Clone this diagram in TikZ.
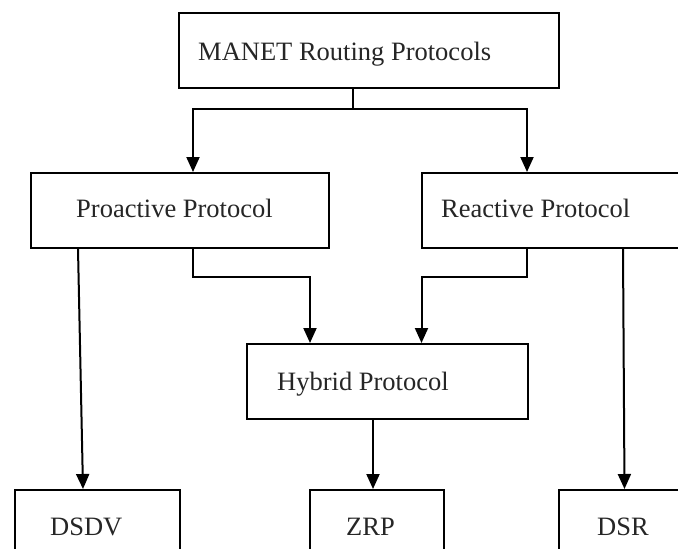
\documentclass[tikz,border=0pt]{standalone}
\usepackage{fontspec}
\setmainfont{Liberation Serif}
\usetikzlibrary{arrows.meta}
\begin{document}
\begin{tikzpicture}[x=1pt,y=-1pt,
  box/.style={draw=black,line width=2pt,rectangle,inner sep=0pt,anchor=north west},
  lbl/.style={anchor=base west,inner sep=0pt,text=black!85,font=\fontsize{26.5}{30}\selectfont},
  arr/.style={draw=black,line width=2pt,-{Triangle[length=15pt,width=13pt]}},
  ln/.style={draw=black,line width=2pt}]
\useasboundingbox (0,0) rectangle (678,549);
\clip (0,0) rectangle (678,549);
\fill[white] (0,0) rectangle (678,549);
% boxes
\node[box,minimum width=380pt,minimum height=75pt] (top) at (178,12) {};
\node[box,minimum width=298pt,minimum height=75pt] (pro) at (30,172) {};
\node[box,minimum width=290pt,minimum height=75pt] (rea) at (421,172) {};
\node[box,minimum width=281pt,minimum height=75pt] (hyb) at (245.5,343) {};
\node[box,minimum width=165pt,minimum height=80pt] (dsdv) at (14,489) {};
\node[box,minimum width=134pt,minimum height=80pt] (zrp) at (309,489) {};
\node[box,minimum width=150pt,minimum height=80pt] (dsr) at (557.5,489) {};
% labels
\node[lbl] (ttop) at (198,60) {MANET Routing Protocols};
\node[lbl] (tpro) at (76,217) {Proactive Protocol};
\node[lbl] (trea) at (441,217) {Reactive Protocol};
\node[lbl] (thyb) at (277,390) {Hybrid Protocol};
\node[lbl] (tdsdv) at (50,535) {DSDV};
\node[lbl] (tzrp) at (346,535) {ZRP};
\node[lbl] (tdsr) at (597,535) {DSR};
% helper coordinates
\coordinate (j1) at (353,109);
\coordinate (xP) at (193,0);
\coordinate (xR) at (527,0);
\coordinate (jp) at (310,277);
\coordinate (jr) at (421.5,277);
\coordinate (xD1) at (78,0);
\coordinate (xD2) at (83,0);
\coordinate (xS1) at (623,0);
\coordinate (xS2) at (624.5,0);
\coordinate (xZ) at (373,0);
% connectors
\draw[ln] (top.south -| j1) -- (j1);
\draw[arr] (j1) -| (pro.north -| xP);
\draw[arr] (j1) -| (rea.north -| xR);
\draw[arr] (pro.south -| xP) |- (jp) -- (hyb.north -| jp);
\draw[arr] (rea.south -| xR) |- (jr) -- (hyb.north -| jr);
\draw[arr] (pro.south -| xD1) -- (dsdv.north -| xD2);
\draw[arr] (rea.south -| xS1) -- (dsr.north -| xS2);
\draw[arr] (hyb.south -| xZ) -- (zrp.north -| xZ);
\end{tikzpicture}
\end{document}
